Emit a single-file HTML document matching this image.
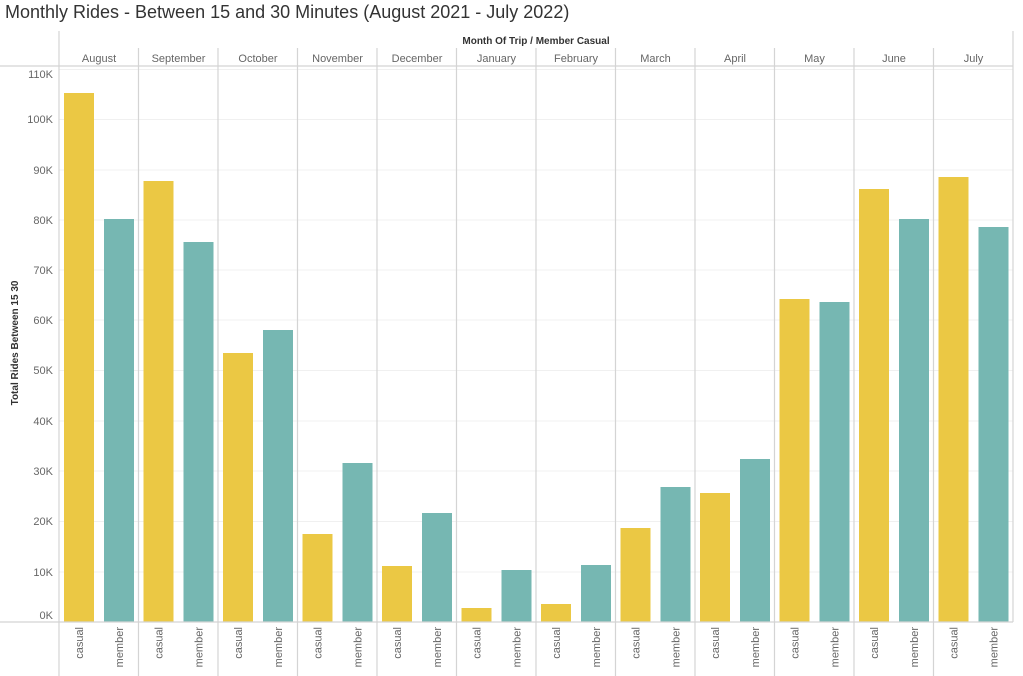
<!DOCTYPE html>
<html><head><meta charset="utf-8"><style>
html,body{margin:0;padding:0;background:#fff;}
svg{display:block;font-family:"Liberation Sans",sans-serif;}
</style></head><body>
<svg width="1023" height="676" xmlns="http://www.w3.org/2000/svg">
<text x="5" y="18" font-size="18" fill="#333">Monthly Rides - Between 15 and 30 Minutes (August 2021 - July 2022)</text>
<text x="536" y="44" font-size="10" font-weight="bold" fill="#333" text-anchor="middle">Month Of Trip  /  Member Casual</text>
<g id="grid" stroke="#f0f0f0" stroke-width="1">
<line x1="59" x2="1013" y1="572" y2="572"/><line x1="59" x2="1013" y1="521.5" y2="521.5"/>
<line x1="59" x2="1013" y1="471" y2="471"/><line x1="59" x2="1013" y1="421" y2="421"/>
<line x1="59" x2="1013" y1="370.5" y2="370.5"/><line x1="59" x2="1013" y1="320" y2="320"/>
<line x1="59" x2="1013" y1="270" y2="270"/><line x1="59" x2="1013" y1="220" y2="220"/>
<line x1="59" x2="1013" y1="170" y2="170"/><line x1="59" x2="1013" y1="119.5" y2="119.5"/>
<line x1="59" x2="1013" y1="69.5" y2="69.5"/>
</g>
<g font-size="11" fill="#666" text-anchor="end">
<text x="53" y="619">0K</text><text x="53" y="576">10K</text><text x="53" y="525">20K</text>
<text x="53" y="475">30K</text><text x="53" y="425">40K</text><text x="53" y="374">50K</text>
<text x="53" y="324">60K</text><text x="53" y="274">70K</text><text x="53" y="224">80K</text>
<text x="53" y="174">90K</text><text x="53" y="123">100K</text><text x="53" y="78">110K</text>
</g>
<text transform="translate(18,343) rotate(-90)" font-size="10" font-weight="bold" fill="#333" text-anchor="middle">Total Rides Between 15 30</text>
<g id="bars"></g>
<g stroke="#d4d4d4" stroke-width="1.2">
<line x1="0" x2="1013" y1="66" y2="66"/>
<line x1="0" x2="1013" y1="622" y2="622"/>
<line x1="59" x2="59" y1="31" y2="676"/>
<line x1="1013" x2="1013" y1="31" y2="622"/>
</g>
<g id="cols"></g>
</svg>
<script>
var months=["August","September","October","November","December","January","February","March","April","May","June","July"];
var tops=[[93,219],[181,242],[353,330],[534,463],[566,513],[608,570],[604,565],[528,487],[493,459],[299,302],[189,219],[177,227]];
var ns="http://www.w3.org/2000/svg",bars=document.getElementById("bars"),cols=document.getElementById("cols");
function el(t,a,p,txt){var e=document.createElementNS(ns,t);for(var k in a)e.setAttribute(k,a[k]);if(txt)e.textContent=txt;p.appendChild(e);return e;}
for(var i=0;i<12;i++){
 var x=59+i*79.5;
 el("rect",{x:x+5,y:tops[i][0],width:30,height:622-tops[i][0],fill:"#EBC844"},bars);
 el("rect",{x:x+45,y:tops[i][1],width:30,height:622-tops[i][1],fill:"#76B7B2"},bars);
 if(i>0)el("line",{x1:x,x2:x,y1:48,y2:676,stroke:"#d4d4d4","stroke-width":1.2},cols);
 el("text",{x:x+40,y:62,"font-size":11,fill:"#666","text-anchor":"middle"},cols,months[i]);
 el("text",{transform:"translate("+(x+24)+",627) rotate(-90)","font-size":11,fill:"#666","text-anchor":"end"},cols,"casual");
 el("text",{transform:"translate("+(x+64)+",627) rotate(-90)","font-size":11,fill:"#666","text-anchor":"end"},cols,"member");
}
</script>
</body></html>
